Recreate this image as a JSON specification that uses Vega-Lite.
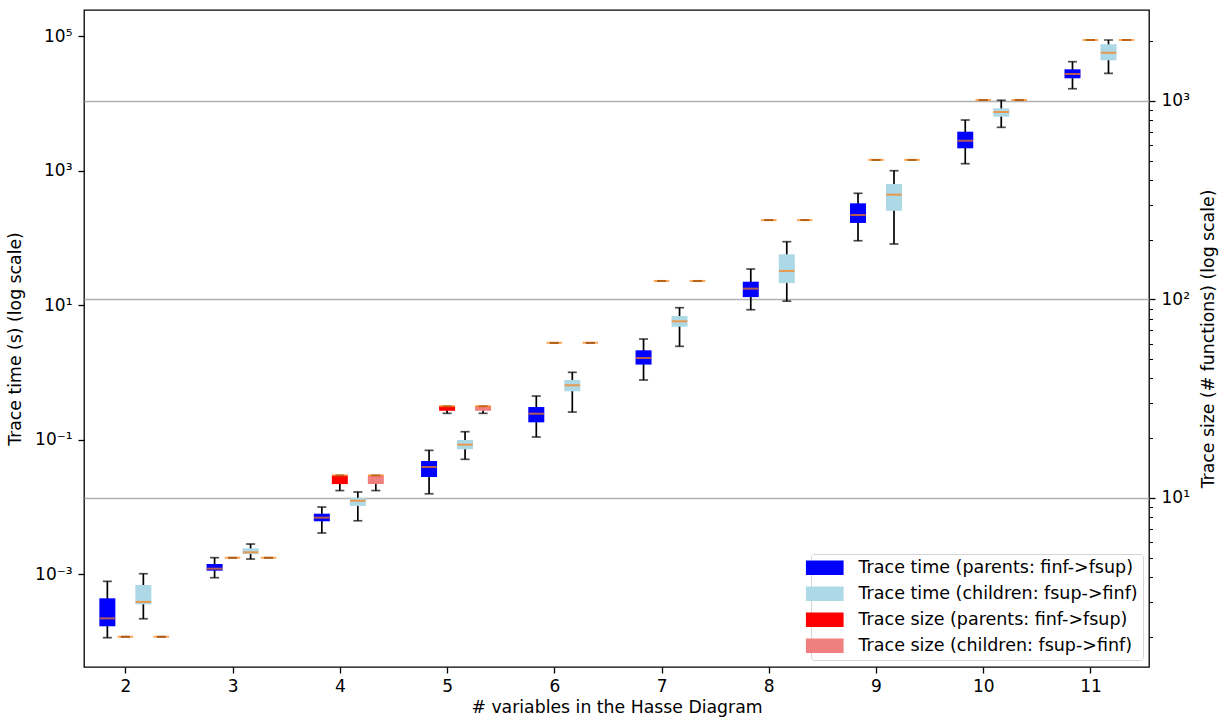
{
  "$schema": "https://vega.github.io/schema/vega-lite/v6.json",
  "autosize": {"type": "none"},
  "padding": {"left": 84, "top": 10, "right": 76, "bottom": 58},
  "width": 1065,
  "height": 657,
  "background": "white",
  "config": {
    "font": "DejaVu Sans",
    "view": {"stroke": "black", "strokeWidth": 1.3},
    "axis": {"labelFont": "DejaVu Sans", "titleFont": "DejaVu Sans", "labelFontSize": 17, "titleFontSize": 17.3, "titleFontWeight": "normal", "labelColor": "black", "titleColor": "black", "tickColor": "black", "tickWidth": 1.3, "tickSize": 6, "domain": false, "grid": false, "labelOverlap": false},
    "legend": {"orient": "none", "legendX": 727, "legendY": 544, "labelFont": "DejaVu Sans", "labelFontSize": 17.5, "labelColor": "black", "labelLimit": 500, "labelOffset": 25, "rowPadding": 7, "padding": 5, "strokeColor": "#d5d5d5", "fillColor": "white", "cornerRadius": 3, "symbolStrokeWidth": 0, "symbolSize": 210, "symbolOpacity": 1}
  },
  "data": {"values": [
    {"n": 2, "series": "Trace time (parents: finf->fsup)", "lo": 0.000113, "q1": 0.000167, "med": 0.000219, "q3": 0.000435, "hi": 0.000778},
    {"n": 2, "series": "Trace time (children: fsup->finf)", "lo": 0.000216, "q1": 0.000354, "med": 0.000384, "q3": 0.000687, "hi": 0.00101},
    {"n": 2, "series": "Trace size (parents: finf->fsup)", "lo": 2, "q1": 2, "med": 2, "q3": 2, "hi": 2},
    {"n": 2, "series": "Trace size (children: fsup->finf)", "lo": 2, "q1": 2, "med": 2, "q3": 2, "hi": 2},
    {"n": 3, "series": "Trace time (parents: finf->fsup)", "lo": 0.000881, "q1": 0.00112, "med": 0.0012, "q3": 0.00141, "hi": 0.00175},
    {"n": 3, "series": "Trace time (children: fsup->finf)", "lo": 0.00167, "q1": 0.00198, "med": 0.0021, "q3": 0.00241, "hi": 0.00279},
    {"n": 3, "series": "Trace size (parents: finf->fsup)", "lo": 5, "q1": 5, "med": 5, "q3": 5, "hi": 5},
    {"n": 3, "series": "Trace size (children: fsup->finf)", "lo": 5, "q1": 5, "med": 5, "q3": 5, "hi": 5},
    {"n": 4, "series": "Trace time (parents: finf->fsup)", "lo": 0.00407, "q1": 0.00608, "med": 0.00688, "q3": 0.00788, "hi": 0.0099},
    {"n": 4, "series": "Trace time (children: fsup->finf)", "lo": 0.00619, "q1": 0.0103, "med": 0.0123, "q3": 0.0136, "hi": 0.0166},
    {"n": 4, "series": "Trace size (parents: finf->fsup)", "lo": 10.9, "q1": 11.75, "med": 13, "q3": 13, "hi": 13},
    {"n": 4, "series": "Trace size (children: fsup->finf)", "lo": 10.9, "q1": 11.75, "med": 13, "q3": 13, "hi": 13},
    {"n": 5, "series": "Trace time (parents: finf->fsup)", "lo": 0.0156, "q1": 0.0277, "med": 0.039, "q3": 0.0479, "hi": 0.069},
    {"n": 5, "series": "Trace time (children: fsup->finf)", "lo": 0.0508, "q1": 0.0715, "med": 0.0838, "q3": 0.0984, "hi": 0.1306},
    {"n": 5, "series": "Trace size (parents: finf->fsup)", "lo": 26.7, "q1": 27.5, "med": 29, "q3": 29, "hi": 29},
    {"n": 5, "series": "Trace size (children: fsup->finf)", "lo": 26.7, "q1": 27.5, "med": 29, "q3": 29, "hi": 29},
    {"n": 6, "series": "Trace time (parents: finf->fsup)", "lo": 0.109, "q1": 0.18, "med": 0.242, "q3": 0.304, "hi": 0.443},
    {"n": 6, "series": "Trace time (children: fsup->finf)", "lo": 0.256, "q1": 0.521, "med": 0.64, "q3": 0.767, "hi": 0.998},
    {"n": 6, "series": "Trace size (parents: finf->fsup)", "lo": 60.5, "q1": 60.5, "med": 60.5, "q3": 60.5, "hi": 60.5},
    {"n": 6, "series": "Trace size (children: fsup->finf)", "lo": 60.5, "q1": 60.5, "med": 60.5, "q3": 60.5, "hi": 60.5},
    {"n": 7, "series": "Trace time (parents: finf->fsup)", "lo": 0.767, "q1": 1.3, "med": 1.63, "q3": 2.12, "hi": 3.12},
    {"n": 7, "series": "Trace time (children: fsup->finf)", "lo": 2.43, "q1": 4.76, "med": 5.72, "q3": 6.85, "hi": 9.12},
    {"n": 7, "series": "Trace size (parents: finf->fsup)", "lo": 124, "q1": 124, "med": 124, "q3": 124, "hi": 124},
    {"n": 7, "series": "Trace size (children: fsup->finf)", "lo": 124, "q1": 124, "med": 124, "q3": 124, "hi": 124},
    {"n": 8, "series": "Trace time (parents: finf->fsup)", "lo": 8.51, "q1": 13.1, "med": 17.5, "q3": 22.2, "hi": 34.3},
    {"n": 8, "series": "Trace time (children: fsup->finf)", "lo": 11.4, "q1": 21.2, "med": 32.1, "q3": 56.8, "hi": 87.4},
    {"n": 8, "series": "Trace size (parents: finf->fsup)", "lo": 251, "q1": 251, "med": 251, "q3": 251, "hi": 251},
    {"n": 8, "series": "Trace size (children: fsup->finf)", "lo": 251, "q1": 251, "med": 251, "q3": 251, "hi": 251},
    {"n": 9, "series": "Trace time (parents: finf->fsup)", "lo": 90.3, "q1": 166, "med": 218, "q3": 325, "hi": 458},
    {"n": 9, "series": "Trace time (children: fsup->finf)", "lo": 80.7, "q1": 252, "med": 437, "q3": 630, "hi": 993},
    {"n": 9, "series": "Trace size (parents: finf->fsup)", "lo": 505, "q1": 505, "med": 505, "q3": 505, "hi": 505},
    {"n": 9, "series": "Trace size (children: fsup->finf)", "lo": 505, "q1": 505, "med": 505, "q3": 505, "hi": 505},
    {"n": 10, "series": "Trace time (parents: finf->fsup)", "lo": 1262, "q1": 2138, "med": 2772, "q3": 3777, "hi": 5636},
    {"n": 10, "series": "Trace time (children: fsup->finf)", "lo": 4385, "q1": 6310, "med": 7413, "q3": 8414, "hi": 11070},
    {"n": 10, "series": "Trace size (parents: finf->fsup)", "lo": 1012, "q1": 1012, "med": 1012, "q3": 1012, "hi": 1012},
    {"n": 10, "series": "Trace size (children: fsup->finf)", "lo": 1012, "q1": 1012, "med": 1012, "q3": 1012, "hi": 1012},
    {"n": 11, "series": "Trace time (parents: finf->fsup)", "lo": 16440, "q1": 23500, "med": 27230, "q3": 31990, "hi": 41500},
    {"n": 11, "series": "Trace time (children: fsup->finf)", "lo": 27860, "q1": 43560, "med": 56460, "q3": 75340, "hi": 87250},
    {"n": 11, "series": "Trace size (parents: finf->fsup)", "lo": 2029, "q1": 2029, "med": 2029, "q3": 2029, "hi": 2029},
    {"n": 11, "series": "Trace size (children: fsup->finf)", "lo": 2029, "q1": 2029, "med": 2029, "q3": 2029, "hi": 2029}
  ]},
  "encoding": {
    "x": {"field": "n", "type": "quantitative", "scale": {"domain": [1.661, 11.499], "nice": false, "zero": false},
      "axis": {"values": [2, 3, 4, 5, 6, 7, 8, 9, 10, 11], "format": "d", "title": "# variables in the Hasse Diagram", "labelPadding": 5, "titlePadding": 4, "tickSize": 6}}
  },
  "layer": [
    {
      "layer": [
        {
          "transform": [{"filter": {"field": "series", "equal": "Trace time (parents: finf->fsup)"}}],
          "layer": [
            {"mark": {"type": "rule", "xOffset": -18, "color": "black", "strokeWidth": 1.7},
             "encoding": {"y": {"field": "lo", "type": "quantitative", "scale": {"type": "log", "domain": [0.00004142, 243600], "nice": false},
               "axis": {"title": "Trace time (s) (log scale)", "values": [0.001, 0.1, 10, 1000, 100000], "labelExpr": "datum.value > 10000 ? '10⁵' : datum.value > 100 ? '10³' : datum.value > 1 ? '10¹' : datum.value > 0.01 ? '10⁻¹' : '10⁻³'", "labelPadding": 6, "tickSize": 6, "titleX": -69, "titleY": 328.5, "titleAngle": 270, "titleAlign": "center", "titleBaseline": "middle"}},
               "y2": {"field": "hi"}}},
            {"mark": {"type": "bar", "xOffset": -18, "width": 16, "orient": "vertical"},
             "encoding": {"y": {"field": "q1", "type": "quantitative", "scale": {"type": "log", "domain": [0.00004142, 243600], "nice": false},
               "axis": {"title": "Trace time (s) (log scale)", "values": [0.001, 0.1, 10, 1000, 100000], "labelExpr": "datum.value > 10000 ? '10⁵' : datum.value > 100 ? '10³' : datum.value > 1 ? '10¹' : datum.value > 0.01 ? '10⁻¹' : '10⁻³'", "labelPadding": 6, "tickSize": 6, "titleX": -69, "titleY": 328.5, "titleAngle": 270, "titleAlign": "center", "titleBaseline": "middle"}},
               "y2": {"field": "q3"},
               "color": {"field": "series", "type": "nominal", "scale": {"domain": ["Trace time (parents: finf->fsup)", "Trace time (children: fsup->finf)", "Trace size (parents: finf->fsup)", "Trace size (children: fsup->finf)"], "range": ["#0000ff", "#add8e6", "#ff0000", "#f08080"]}, "legend": {"title": null, "symbolType": "M-2.6,-1H2.6V1H-2.6Z"}}}},
            {"mark": {"type": "tick", "orient": "horizontal", "xOffset": -18, "size": 9, "thickness": 1.7, "color": "black"},
             "encoding": {"y": {"field": "lo", "type": "quantitative", "scale": {"type": "log", "domain": [0.00004142, 243600], "nice": false},
               "axis": {"title": "Trace time (s) (log scale)", "values": [0.001, 0.1, 10, 1000, 100000], "labelExpr": "datum.value > 10000 ? '10⁵' : datum.value > 100 ? '10³' : datum.value > 1 ? '10¹' : datum.value > 0.01 ? '10⁻¹' : '10⁻³'", "labelPadding": 6, "tickSize": 6, "titleX": -69, "titleY": 328.5, "titleAngle": 270, "titleAlign": "center", "titleBaseline": "middle"}}}},
            {"mark": {"type": "tick", "orient": "horizontal", "xOffset": -18, "size": 9, "thickness": 1.7, "color": "black"},
             "encoding": {"y": {"field": "hi", "type": "quantitative", "scale": {"type": "log", "domain": [0.00004142, 243600], "nice": false},
               "axis": {"title": "Trace time (s) (log scale)", "values": [0.001, 0.1, 10, 1000, 100000], "labelExpr": "datum.value > 10000 ? '10⁵' : datum.value > 100 ? '10³' : datum.value > 1 ? '10¹' : datum.value > 0.01 ? '10⁻¹' : '10⁻³'", "labelPadding": 6, "tickSize": 6, "titleX": -69, "titleY": 328.5, "titleAngle": 270, "titleAlign": "center", "titleBaseline": "middle"}}}},
            {"mark": {"type": "tick", "orient": "horizontal", "xOffset": -18, "size": 15.5, "thickness": 2, "color": "#ff7f0e"},
             "encoding": {"y": {"field": "med", "type": "quantitative", "scale": {"type": "log", "domain": [0.00004142, 243600], "nice": false},
               "axis": {"title": "Trace time (s) (log scale)", "values": [0.001, 0.1, 10, 1000, 100000], "labelExpr": "datum.value > 10000 ? '10⁵' : datum.value > 100 ? '10³' : datum.value > 1 ? '10¹' : datum.value > 0.01 ? '10⁻¹' : '10⁻³'", "labelPadding": 6, "tickSize": 6, "titleX": -69, "titleY": 328.5, "titleAngle": 270, "titleAlign": "center", "titleBaseline": "middle"}}}}
          ]
        },
        {
          "transform": [{"filter": {"field": "series", "equal": "Trace time (children: fsup->finf)"}}],
          "layer": [
            {"mark": {"type": "rule", "xOffset": 18, "color": "black", "strokeWidth": 1.7},
             "encoding": {"y": {"field": "lo", "type": "quantitative", "scale": {"type": "log", "domain": [0.00004142, 243600], "nice": false},
               "axis": {"title": "Trace time (s) (log scale)", "values": [0.001, 0.1, 10, 1000, 100000], "labelExpr": "datum.value > 10000 ? '10⁵' : datum.value > 100 ? '10³' : datum.value > 1 ? '10¹' : datum.value > 0.01 ? '10⁻¹' : '10⁻³'", "labelPadding": 6, "tickSize": 6, "titleX": -69, "titleY": 328.5, "titleAngle": 270, "titleAlign": "center", "titleBaseline": "middle"}},
               "y2": {"field": "hi"}}},
            {"mark": {"type": "bar", "xOffset": 18, "width": 16, "orient": "vertical"},
             "encoding": {"y": {"field": "q1", "type": "quantitative", "scale": {"type": "log", "domain": [0.00004142, 243600], "nice": false},
               "axis": {"title": "Trace time (s) (log scale)", "values": [0.001, 0.1, 10, 1000, 100000], "labelExpr": "datum.value > 10000 ? '10⁵' : datum.value > 100 ? '10³' : datum.value > 1 ? '10¹' : datum.value > 0.01 ? '10⁻¹' : '10⁻³'", "labelPadding": 6, "tickSize": 6, "titleX": -69, "titleY": 328.5, "titleAngle": 270, "titleAlign": "center", "titleBaseline": "middle"}},
               "y2": {"field": "q3"},
               "color": {"field": "series", "type": "nominal", "scale": {"domain": ["Trace time (parents: finf->fsup)", "Trace time (children: fsup->finf)", "Trace size (parents: finf->fsup)", "Trace size (children: fsup->finf)"], "range": ["#0000ff", "#add8e6", "#ff0000", "#f08080"]}, "legend": {"title": null, "symbolType": "M-2.6,-1H2.6V1H-2.6Z"}}}},
            {"mark": {"type": "tick", "orient": "horizontal", "xOffset": 18, "size": 9, "thickness": 1.7, "color": "black"},
             "encoding": {"y": {"field": "lo", "type": "quantitative", "scale": {"type": "log", "domain": [0.00004142, 243600], "nice": false},
               "axis": {"title": "Trace time (s) (log scale)", "values": [0.001, 0.1, 10, 1000, 100000], "labelExpr": "datum.value > 10000 ? '10⁵' : datum.value > 100 ? '10³' : datum.value > 1 ? '10¹' : datum.value > 0.01 ? '10⁻¹' : '10⁻³'", "labelPadding": 6, "tickSize": 6, "titleX": -69, "titleY": 328.5, "titleAngle": 270, "titleAlign": "center", "titleBaseline": "middle"}}}},
            {"mark": {"type": "tick", "orient": "horizontal", "xOffset": 18, "size": 9, "thickness": 1.7, "color": "black"},
             "encoding": {"y": {"field": "hi", "type": "quantitative", "scale": {"type": "log", "domain": [0.00004142, 243600], "nice": false},
               "axis": {"title": "Trace time (s) (log scale)", "values": [0.001, 0.1, 10, 1000, 100000], "labelExpr": "datum.value > 10000 ? '10⁵' : datum.value > 100 ? '10³' : datum.value > 1 ? '10¹' : datum.value > 0.01 ? '10⁻¹' : '10⁻³'", "labelPadding": 6, "tickSize": 6, "titleX": -69, "titleY": 328.5, "titleAngle": 270, "titleAlign": "center", "titleBaseline": "middle"}}}},
            {"mark": {"type": "tick", "orient": "horizontal", "xOffset": 18, "size": 15.5, "thickness": 2, "color": "#ff7f0e"},
             "encoding": {"y": {"field": "med", "type": "quantitative", "scale": {"type": "log", "domain": [0.00004142, 243600], "nice": false},
               "axis": {"title": "Trace time (s) (log scale)", "values": [0.001, 0.1, 10, 1000, 100000], "labelExpr": "datum.value > 10000 ? '10⁵' : datum.value > 100 ? '10³' : datum.value > 1 ? '10¹' : datum.value > 0.01 ? '10⁻¹' : '10⁻³'", "labelPadding": 6, "tickSize": 6, "titleX": -69, "titleY": 328.5, "titleAngle": 270, "titleAlign": "center", "titleBaseline": "middle"}}}}
          ]
        }
      ]
    },
    {
      "layer": [
        {
          "transform": [{"filter": {"field": "series", "equal": "Trace size (parents: finf->fsup)"}}],
          "layer": [
            {"mark": {"type": "rule", "xOffset": 0, "color": "black", "strokeWidth": 1.7},
             "encoding": {"y": {"field": "lo", "type": "quantitative", "scale": {"type": "log", "domain": [1.408, 2873], "nice": false},
               "axis": {"orient": "right", "title": "Trace size (# functions) (log scale)", "values": [2, 3, 4, 5, 6, 7, 8, 9, 10, 20, 30, 40, 50, 60, 70, 80, 90, 100, 200, 300, 400, 500, 600, 700, 800, 900, 1000, 2000], "labelExpr": "datum.value == 10 ? '10¹' : datum.value == 100 ? '10²' : datum.value == 1000 ? '10³' : ''", "labelPadding": 6, "tickSize": {"condition": {"test": "datum.value == 10 || datum.value == 100 || datum.value == 1000", "value": 6}, "value": 3.5}, "tickWidth": {"condition": {"test": "datum.value == 10 || datum.value == 100 || datum.value == 1000", "value": 1.3}, "value": 1}, "grid": true, "gridColor": "#b0b0b0", "gridWidth": 1.3, "gridOpacity": {"condition": {"test": "datum.value == 10 || datum.value == 100 || datum.value == 1000", "value": 1}, "value": 0}, "titleX": 59, "titleY": 328.5, "titleAngle": 270, "titleAlign": "center", "titleBaseline": "middle"}},
               "y2": {"field": "hi"}}},
            {"mark": {"type": "bar", "xOffset": 0, "width": 16, "orient": "vertical"},
             "encoding": {"y": {"field": "q1", "type": "quantitative", "scale": {"type": "log", "domain": [1.408, 2873], "nice": false},
               "axis": {"orient": "right", "title": "Trace size (# functions) (log scale)", "values": [2, 3, 4, 5, 6, 7, 8, 9, 10, 20, 30, 40, 50, 60, 70, 80, 90, 100, 200, 300, 400, 500, 600, 700, 800, 900, 1000, 2000], "labelExpr": "datum.value == 10 ? '10¹' : datum.value == 100 ? '10²' : datum.value == 1000 ? '10³' : ''", "labelPadding": 6, "tickSize": {"condition": {"test": "datum.value == 10 || datum.value == 100 || datum.value == 1000", "value": 6}, "value": 3.5}, "tickWidth": {"condition": {"test": "datum.value == 10 || datum.value == 100 || datum.value == 1000", "value": 1.3}, "value": 1}, "grid": true, "gridColor": "#b0b0b0", "gridWidth": 1.3, "gridOpacity": {"condition": {"test": "datum.value == 10 || datum.value == 100 || datum.value == 1000", "value": 1}, "value": 0}, "titleX": 59, "titleY": 328.5, "titleAngle": 270, "titleAlign": "center", "titleBaseline": "middle"}},
               "y2": {"field": "q3"},
               "color": {"field": "series", "type": "nominal", "scale": {"domain": ["Trace time (parents: finf->fsup)", "Trace time (children: fsup->finf)", "Trace size (parents: finf->fsup)", "Trace size (children: fsup->finf)"], "range": ["#0000ff", "#add8e6", "#ff0000", "#f08080"]}, "legend": {"title": null, "symbolType": "M-2.6,-1H2.6V1H-2.6Z"}}}},
            {"mark": {"type": "tick", "orient": "horizontal", "xOffset": 0, "size": 9, "thickness": 1.7, "color": "black"},
             "encoding": {"y": {"field": "lo", "type": "quantitative", "scale": {"type": "log", "domain": [1.408, 2873], "nice": false},
               "axis": {"orient": "right", "title": "Trace size (# functions) (log scale)", "values": [2, 3, 4, 5, 6, 7, 8, 9, 10, 20, 30, 40, 50, 60, 70, 80, 90, 100, 200, 300, 400, 500, 600, 700, 800, 900, 1000, 2000], "labelExpr": "datum.value == 10 ? '10¹' : datum.value == 100 ? '10²' : datum.value == 1000 ? '10³' : ''", "labelPadding": 6, "tickSize": {"condition": {"test": "datum.value == 10 || datum.value == 100 || datum.value == 1000", "value": 6}, "value": 3.5}, "tickWidth": {"condition": {"test": "datum.value == 10 || datum.value == 100 || datum.value == 1000", "value": 1.3}, "value": 1}, "grid": true, "gridColor": "#b0b0b0", "gridWidth": 1.3, "gridOpacity": {"condition": {"test": "datum.value == 10 || datum.value == 100 || datum.value == 1000", "value": 1}, "value": 0}, "titleX": 59, "titleY": 328.5, "titleAngle": 270, "titleAlign": "center", "titleBaseline": "middle"}}}},
            {"mark": {"type": "tick", "orient": "horizontal", "xOffset": 0, "size": 9, "thickness": 1.7, "color": "black"},
             "encoding": {"y": {"field": "hi", "type": "quantitative", "scale": {"type": "log", "domain": [1.408, 2873], "nice": false},
               "axis": {"orient": "right", "title": "Trace size (# functions) (log scale)", "values": [2, 3, 4, 5, 6, 7, 8, 9, 10, 20, 30, 40, 50, 60, 70, 80, 90, 100, 200, 300, 400, 500, 600, 700, 800, 900, 1000, 2000], "labelExpr": "datum.value == 10 ? '10¹' : datum.value == 100 ? '10²' : datum.value == 1000 ? '10³' : ''", "labelPadding": 6, "tickSize": {"condition": {"test": "datum.value == 10 || datum.value == 100 || datum.value == 1000", "value": 6}, "value": 3.5}, "tickWidth": {"condition": {"test": "datum.value == 10 || datum.value == 100 || datum.value == 1000", "value": 1.3}, "value": 1}, "grid": true, "gridColor": "#b0b0b0", "gridWidth": 1.3, "gridOpacity": {"condition": {"test": "datum.value == 10 || datum.value == 100 || datum.value == 1000", "value": 1}, "value": 0}, "titleX": 59, "titleY": 328.5, "titleAngle": 270, "titleAlign": "center", "titleBaseline": "middle"}}}},
            {"mark": {"type": "tick", "orient": "horizontal", "xOffset": 0, "size": 15.5, "thickness": 2, "color": "#ff7f0e"},
             "encoding": {"y": {"field": "med", "type": "quantitative", "scale": {"type": "log", "domain": [1.408, 2873], "nice": false},
               "axis": {"orient": "right", "title": "Trace size (# functions) (log scale)", "values": [2, 3, 4, 5, 6, 7, 8, 9, 10, 20, 30, 40, 50, 60, 70, 80, 90, 100, 200, 300, 400, 500, 600, 700, 800, 900, 1000, 2000], "labelExpr": "datum.value == 10 ? '10¹' : datum.value == 100 ? '10²' : datum.value == 1000 ? '10³' : ''", "labelPadding": 6, "tickSize": {"condition": {"test": "datum.value == 10 || datum.value == 100 || datum.value == 1000", "value": 6}, "value": 3.5}, "tickWidth": {"condition": {"test": "datum.value == 10 || datum.value == 100 || datum.value == 1000", "value": 1.3}, "value": 1}, "grid": true, "gridColor": "#b0b0b0", "gridWidth": 1.3, "gridOpacity": {"condition": {"test": "datum.value == 10 || datum.value == 100 || datum.value == 1000", "value": 1}, "value": 0}, "titleX": 59, "titleY": 328.5, "titleAngle": 270, "titleAlign": "center", "titleBaseline": "middle"}}}}
          ]
        },
        {
          "transform": [{"filter": {"field": "series", "equal": "Trace size (children: fsup->finf)"}}],
          "layer": [
            {"mark": {"type": "rule", "xOffset": 36, "color": "black", "strokeWidth": 1.7},
             "encoding": {"y": {"field": "lo", "type": "quantitative", "scale": {"type": "log", "domain": [1.408, 2873], "nice": false},
               "axis": {"orient": "right", "title": "Trace size (# functions) (log scale)", "values": [2, 3, 4, 5, 6, 7, 8, 9, 10, 20, 30, 40, 50, 60, 70, 80, 90, 100, 200, 300, 400, 500, 600, 700, 800, 900, 1000, 2000], "labelExpr": "datum.value == 10 ? '10¹' : datum.value == 100 ? '10²' : datum.value == 1000 ? '10³' : ''", "labelPadding": 6, "tickSize": {"condition": {"test": "datum.value == 10 || datum.value == 100 || datum.value == 1000", "value": 6}, "value": 3.5}, "tickWidth": {"condition": {"test": "datum.value == 10 || datum.value == 100 || datum.value == 1000", "value": 1.3}, "value": 1}, "grid": true, "gridColor": "#b0b0b0", "gridWidth": 1.3, "gridOpacity": {"condition": {"test": "datum.value == 10 || datum.value == 100 || datum.value == 1000", "value": 1}, "value": 0}, "titleX": 59, "titleY": 328.5, "titleAngle": 270, "titleAlign": "center", "titleBaseline": "middle"}},
               "y2": {"field": "hi"}}},
            {"mark": {"type": "bar", "xOffset": 36, "width": 16, "orient": "vertical"},
             "encoding": {"y": {"field": "q1", "type": "quantitative", "scale": {"type": "log", "domain": [1.408, 2873], "nice": false},
               "axis": {"orient": "right", "title": "Trace size (# functions) (log scale)", "values": [2, 3, 4, 5, 6, 7, 8, 9, 10, 20, 30, 40, 50, 60, 70, 80, 90, 100, 200, 300, 400, 500, 600, 700, 800, 900, 1000, 2000], "labelExpr": "datum.value == 10 ? '10¹' : datum.value == 100 ? '10²' : datum.value == 1000 ? '10³' : ''", "labelPadding": 6, "tickSize": {"condition": {"test": "datum.value == 10 || datum.value == 100 || datum.value == 1000", "value": 6}, "value": 3.5}, "tickWidth": {"condition": {"test": "datum.value == 10 || datum.value == 100 || datum.value == 1000", "value": 1.3}, "value": 1}, "grid": true, "gridColor": "#b0b0b0", "gridWidth": 1.3, "gridOpacity": {"condition": {"test": "datum.value == 10 || datum.value == 100 || datum.value == 1000", "value": 1}, "value": 0}, "titleX": 59, "titleY": 328.5, "titleAngle": 270, "titleAlign": "center", "titleBaseline": "middle"}},
               "y2": {"field": "q3"},
               "color": {"field": "series", "type": "nominal", "scale": {"domain": ["Trace time (parents: finf->fsup)", "Trace time (children: fsup->finf)", "Trace size (parents: finf->fsup)", "Trace size (children: fsup->finf)"], "range": ["#0000ff", "#add8e6", "#ff0000", "#f08080"]}, "legend": {"title": null, "symbolType": "M-2.6,-1H2.6V1H-2.6Z"}}}},
            {"mark": {"type": "tick", "orient": "horizontal", "xOffset": 36, "size": 9, "thickness": 1.7, "color": "black"},
             "encoding": {"y": {"field": "lo", "type": "quantitative", "scale": {"type": "log", "domain": [1.408, 2873], "nice": false},
               "axis": {"orient": "right", "title": "Trace size (# functions) (log scale)", "values": [2, 3, 4, 5, 6, 7, 8, 9, 10, 20, 30, 40, 50, 60, 70, 80, 90, 100, 200, 300, 400, 500, 600, 700, 800, 900, 1000, 2000], "labelExpr": "datum.value == 10 ? '10¹' : datum.value == 100 ? '10²' : datum.value == 1000 ? '10³' : ''", "labelPadding": 6, "tickSize": {"condition": {"test": "datum.value == 10 || datum.value == 100 || datum.value == 1000", "value": 6}, "value": 3.5}, "tickWidth": {"condition": {"test": "datum.value == 10 || datum.value == 100 || datum.value == 1000", "value": 1.3}, "value": 1}, "grid": true, "gridColor": "#b0b0b0", "gridWidth": 1.3, "gridOpacity": {"condition": {"test": "datum.value == 10 || datum.value == 100 || datum.value == 1000", "value": 1}, "value": 0}, "titleX": 59, "titleY": 328.5, "titleAngle": 270, "titleAlign": "center", "titleBaseline": "middle"}}}},
            {"mark": {"type": "tick", "orient": "horizontal", "xOffset": 36, "size": 9, "thickness": 1.7, "color": "black"},
             "encoding": {"y": {"field": "hi", "type": "quantitative", "scale": {"type": "log", "domain": [1.408, 2873], "nice": false},
               "axis": {"orient": "right", "title": "Trace size (# functions) (log scale)", "values": [2, 3, 4, 5, 6, 7, 8, 9, 10, 20, 30, 40, 50, 60, 70, 80, 90, 100, 200, 300, 400, 500, 600, 700, 800, 900, 1000, 2000], "labelExpr": "datum.value == 10 ? '10¹' : datum.value == 100 ? '10²' : datum.value == 1000 ? '10³' : ''", "labelPadding": 6, "tickSize": {"condition": {"test": "datum.value == 10 || datum.value == 100 || datum.value == 1000", "value": 6}, "value": 3.5}, "tickWidth": {"condition": {"test": "datum.value == 10 || datum.value == 100 || datum.value == 1000", "value": 1.3}, "value": 1}, "grid": true, "gridColor": "#b0b0b0", "gridWidth": 1.3, "gridOpacity": {"condition": {"test": "datum.value == 10 || datum.value == 100 || datum.value == 1000", "value": 1}, "value": 0}, "titleX": 59, "titleY": 328.5, "titleAngle": 270, "titleAlign": "center", "titleBaseline": "middle"}}}},
            {"mark": {"type": "tick", "orient": "horizontal", "xOffset": 36, "size": 15.5, "thickness": 2, "color": "#ff7f0e"},
             "encoding": {"y": {"field": "med", "type": "quantitative", "scale": {"type": "log", "domain": [1.408, 2873], "nice": false},
               "axis": {"orient": "right", "title": "Trace size (# functions) (log scale)", "values": [2, 3, 4, 5, 6, 7, 8, 9, 10, 20, 30, 40, 50, 60, 70, 80, 90, 100, 200, 300, 400, 500, 600, 700, 800, 900, 1000, 2000], "labelExpr": "datum.value == 10 ? '10¹' : datum.value == 100 ? '10²' : datum.value == 1000 ? '10³' : ''", "labelPadding": 6, "tickSize": {"condition": {"test": "datum.value == 10 || datum.value == 100 || datum.value == 1000", "value": 6}, "value": 3.5}, "tickWidth": {"condition": {"test": "datum.value == 10 || datum.value == 100 || datum.value == 1000", "value": 1.3}, "value": 1}, "grid": true, "gridColor": "#b0b0b0", "gridWidth": 1.3, "gridOpacity": {"condition": {"test": "datum.value == 10 || datum.value == 100 || datum.value == 1000", "value": 1}, "value": 0}, "titleX": 59, "titleY": 328.5, "titleAngle": 270, "titleAlign": "center", "titleBaseline": "middle"}}}}
          ]
        }
      ]
    }
  ],
  "resolve": {"scale": {"y": "independent"}, "axis": {"y": "independent"}}
}
